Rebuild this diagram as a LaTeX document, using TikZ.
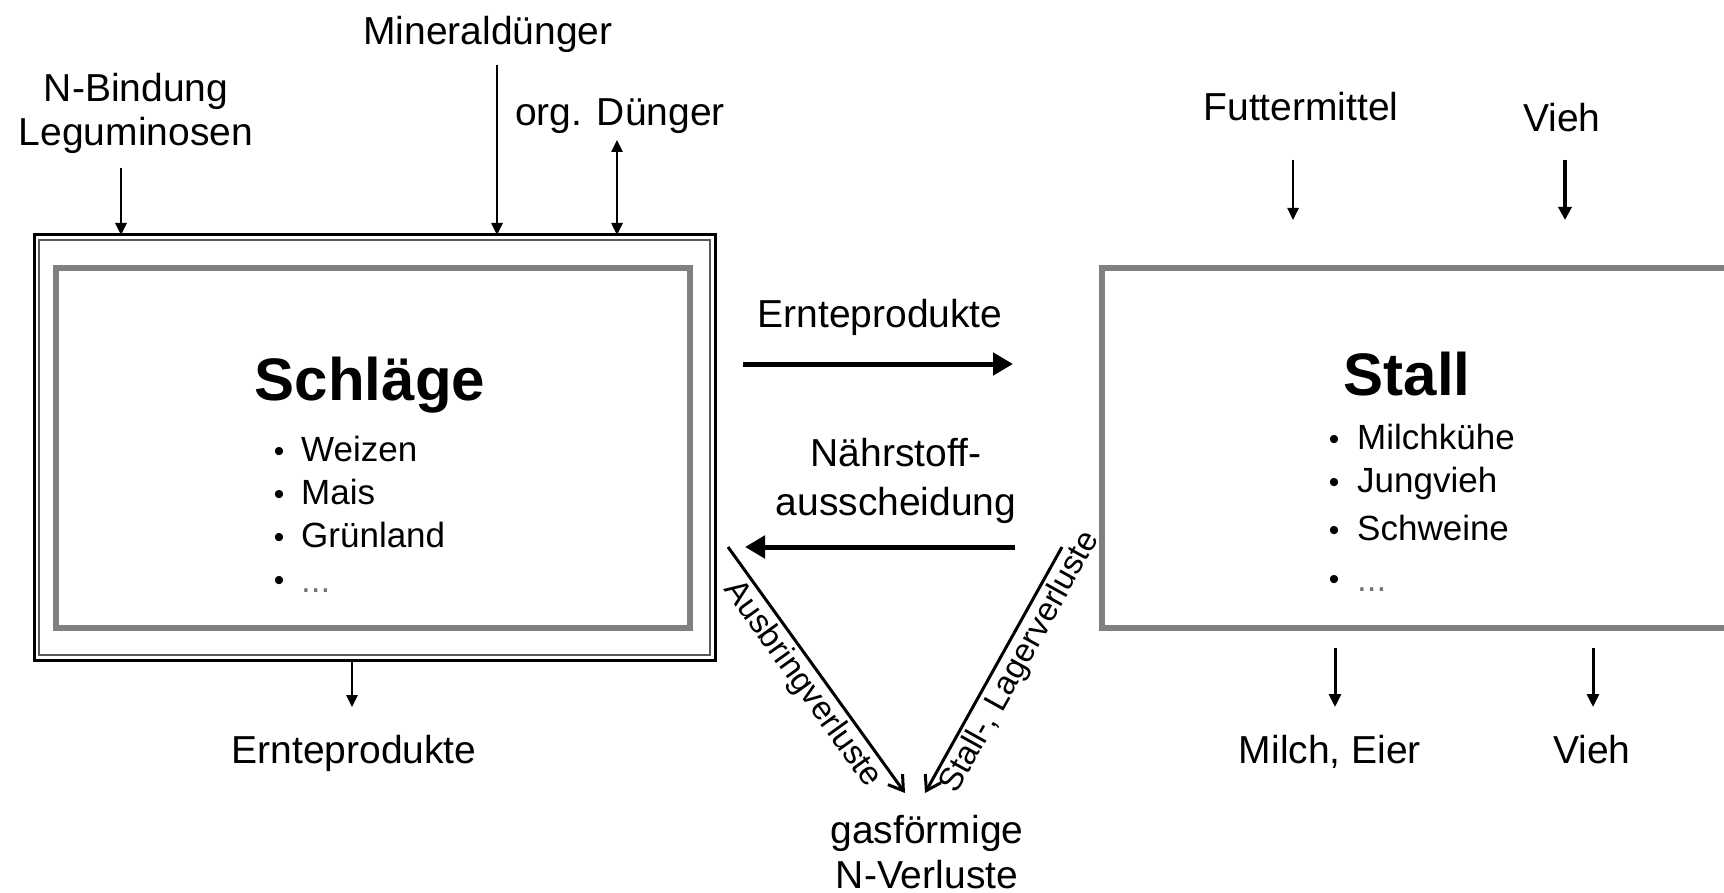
\documentclass[tikz,border=0pt]{standalone}
\usepackage{fontspec}
\setmainfont{Liberation Sans}
\usetikzlibrary{arrows.meta}
\begin{document}
\begin{tikzpicture}[x=1pt,y=-1pt,
  lbl/.style={font=\fontsize{39}{44}\selectfont, anchor=base, inner sep=0pt},
  boxtitle/.style={font=\fontsize{60}{66}\selectfont\bfseries, anchor=base, inner sep=0pt},
  entry/.style={font=\fontsize{35}{40}\selectfont, anchor=base west, inner sep=0pt},
  bulletmark/.style={font=\fontsize{30}{36}\selectfont, anchor=base, inner sep=0pt},
  losslbl/.style={font=\fontsize{33}{38}\selectfont, inner sep=3pt},
  graybox/.style={draw=black!50, line width=6pt, inner sep=0pt, outer sep=0pt},
  smallarrow/.style={line width=2.5pt, -{Triangle[length=12pt,width=11pt]}},
  boldarrow/.style={line width=5pt, -{Triangle[length=20pt,width=22pt]}},
  lossarrow/.style={line width=3pt, -{Straight Barb[length=14pt,width=18pt,line width=3pt]}},
]
\clip (0,0) rectangle (1724,893);
\useasboundingbox (0,0) rectangle (1724,893);

% field system: double frame around the grey box
\node[draw=black, line width=3pt, inner sep=0pt, outer sep=0pt,
      minimum width=681pt, minimum height=425pt] (frame) at (374.5,447.5) {};
\draw[black!65, line width=2.5pt] (39,240) rectangle (710,655);
\node[graybox, minimum width=634pt, minimum height=360pt] (schlaege) at (373,448) {};

% barn box, running past the right edge
\node[graybox, minimum width=660pt, minimum height=360pt] (stall) at (1432,448) {};

% titles and lists
\node[boxtitle] (tschlaege) at (370,400) {Schläge};
\foreach \t/\yy [count=\i] in {Weizen/461, Mais/504, Grünland/547} {
  \node[bulletmark] (sb\i) at (279,\yy) {•};
  \node[entry] (se\i) at (301,\yy) {\t};
}
\node[bulletmark] (sb4) at (279,590) {•};
\node[entry, text=black!55] (se4) at (301,592) {...};

\node[boxtitle] (tstall) at (1407,395) {Stall};
\foreach \t/\yy [count=\i] in {Milchkühe/449, Jungvieh/492, Schweine/540} {
  \node[bulletmark] (tb\i) at (1334,\yy) {•};
  \node[entry] (te\i) at (1357,\yy) {\t};
}
\node[bulletmark] (tb4) at (1334,589) {•};
\node[entry, text=black!55] (te4) at (1357,591) {...};

% inputs to the fields
\node[lbl] (nbind) at (136,102) {N-Bindung};
\node[lbl] (legum) at (136,146) {Leguminosen};
\node[lbl] (mineral) at (488,45) {Mineraldünger};
\node[lbl] (orgd) at (620,126) {org. Dünger};
\coordinate (nbA) at (121,168);
\coordinate (minA) at (497,65);
\coordinate (orgA) at (617,140);
\draw[smallarrow] (nbA) -- (nbA |- frame.north);
\draw[smallarrow] (minA) -- (minA |- frame.north);
\draw[line width=2.5pt, {Triangle[length=12pt,width=11pt]}-{Triangle[length=12pt,width=11pt]}]
  (orgA) -- (orgA |- frame.north);

% output of the fields
\node[lbl] (ernteU) at (354,763) {Ernteprodukte};
\coordinate (ernteA) at (352,707);
\draw[smallarrow] (ernteA |- frame.south) -- (ernteA);

% exchange between fields and barn
\node[lbl] (ernteO) at (880,327) {Ernteprodukte};
\coordinate (eoA) at (743,364);
\coordinate (eoB) at (1013,364);
\draw[boldarrow] (eoA) -- (eoB);

\node[lbl] (naehr1) at (896,466) {Nährstoff-};
\node[lbl] (naehr2) at (896,515) {ausscheidung};
\coordinate (naA) at (1015,547);
\coordinate (naB) at (745,547);
\draw[boldarrow] (naA) -- (naB);

% gaseous losses
\node[lbl] (gas1) at (927,843) {gasförmige};
\node[lbl] (gas2) at (927,888) {N-Verluste};
\coordinate (auA) at (728,547);
\coordinate (auB) at (905,793);
\coordinate (slA) at (1062,547);
\coordinate (slB) at (925,793);
\draw[lossarrow] (auA) -- node[losslbl, sloped, below, pos=0.51] (auL) {Ausbringverluste} (auB);
\draw[lossarrow] (slA) -- node[losslbl, sloped, below, pos=0.43] (slL) {Stall-, Lagerverluste} (slB);

% inputs to the barn
\node[lbl] (futter) at (1301,121) {Futtermittel};
\node[lbl] (viehE) at (1562,132) {Vieh};
\coordinate (fuA) at (1293,160);
\coordinate (fuB) at (1293,220);
\coordinate (veA) at (1565,160);
\coordinate (veB) at (1565,220);
\draw[smallarrow] (fuA) -- (fuB);
\draw[line width=4pt, -{Triangle[length=13pt,width=13pt]}] (veA) -- (veB);

% outputs of the barn
\node[lbl] (milch) at (1330,763) {Milch, Eier};
\node[lbl] (viehA) at (1592,763) {Vieh};
\coordinate (miA) at (1335,648);
\coordinate (miB) at (1335,707);
\coordinate (vaA) at (1593,648);
\coordinate (vaB) at (1593,707);
\draw[line width=3pt, -{Triangle[length=13pt,width=12pt]}] (miA) -- (miB);
\draw[line width=3pt, -{Triangle[length=13pt,width=12pt]}] (vaA) -- (vaB);
\end{tikzpicture}
\end{document}
